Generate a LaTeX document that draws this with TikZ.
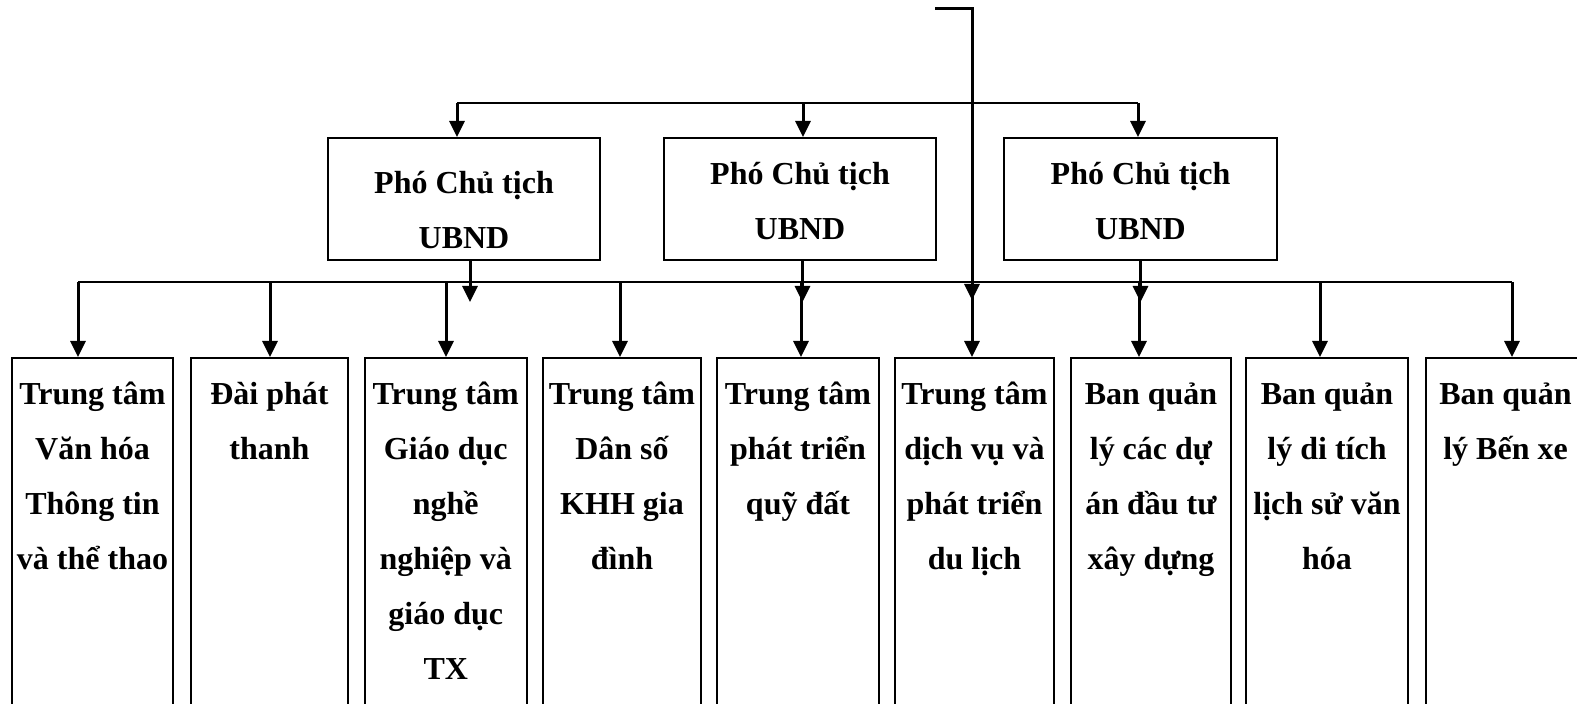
\documentclass[tikz,border=0pt]{standalone}
\usepackage{fontspec}
\setmainfont{Liberation Serif}
\usetikzlibrary{arrows.meta}

% text hung from the top of a box: height, width, first baseline, lines
\newcommand{\celltext}[4]{\parbox[t][#1][t]{#2}{\centering\rule{0pt}{#3}#4}}

\begin{document}
\begin{tikzpicture}[
  x=0.5pt, y=-0.5pt,
  every node/.style={font=\bfseries\fontsize{16pt}{27.5pt}\selectfont},
  vpbox/.style={draw, line width=1pt, inner sep=0pt, anchor=north west},
  unitbox/.style={draw, line width=1pt, inner sep=0pt, anchor=north west},
  conn/.style={line width=1.2pt},
  arr/.style={-{Triangle[length=8pt,width=7.5pt]}, line width=1.5pt}
]
\useasboundingbox (0,0) rectangle (1577,704);

% ---------------- deputy chairmen ----------------
\node[vpbox] (vp1) at (327,137) {\celltext{61pt}{136pt}{28pt}{Phó Chủ tịch\\UBND}};
\node[vpbox] (vp2) at (663,137) {\celltext{61pt}{136pt}{23.4pt}{Phó Chủ tịch\\UBND}};
\node[vpbox] (vp3) at (1003,137) {\celltext{61pt}{136.5pt}{23.4pt}{Phó Chủ tịch\\UBND}};

% ---------------- units ----------------
\node[unitbox] (u1) at (11,357) {\celltext{180pt}{80.5pt}{23.5pt}{Trung tâm\\Văn hóa\\Thông tin\\và thể thao}};
\node[unitbox] (u2) at (190,357) {\celltext{180pt}{78.5pt}{23.5pt}{Đài phát\\thanh}};
\node[unitbox] (u3) at (364,357) {\celltext{180pt}{80.75pt}{23.5pt}{Trung tâm\\Giáo dục\\nghề\\nghiệp và\\giáo dục\\TX}};
\node[unitbox] (u4) at (542,357) {\celltext{180pt}{79pt}{23.5pt}{Trung tâm\\Dân số\\KHH gia\\đình}};
\node[unitbox] (u5) at (716,357) {\celltext{180pt}{81pt}{23.5pt}{Trung tâm\\phát triển\\quỹ đất}};
\node[unitbox] (u6) at (894,357) {\celltext{180pt}{79.5pt}{23.5pt}{Trung tâm\\dịch vụ và\\phát triển\\du lịch}};
\node[unitbox] (u7) at (1070,357) {\celltext{180pt}{80pt}{23.5pt}{Ban quản\\lý các dự\\án đầu tư\\xây dựng}};
\node[unitbox] (u8) at (1245,357) {\celltext{180pt}{81pt}{23.5pt}{Ban quản\\lý di tích\\lịch sử văn\\hóa}};
\node[unitbox] (u9) at (1425,357) {\celltext{180pt}{79.5pt}{23.5pt}{Ban quản\\lý Bến xe}};

% ---------------- buses ----------------
\coordinate (in) at (935,9);
\coordinate (spine) at (972,9);
\coordinate (stop) at (0,300);
\coordinate (tbusL) at (457,103);
\coordinate (tbusR) at (1138,103);
\coordinate (bbusL) at (78,282);
\coordinate (bbusR) at (1512,282);

\draw[conn] (tbusL) -- (tbusR);
\draw[conn] (bbusL) -- (bbusR);
\draw[arr] (in) -- (spine) -- (spine |- stop);

% ---------------- arrows ----------------
\foreach \x/\n in {457/vp1, 803/vp2, 1138/vp3} {
  \coordinate (t) at (\x,103);
  \draw[arr] (t) -- (t |- \n.north);
}
\draw[arr] ([xshift=3pt]vp1.south) -- ++(0,41);
\draw[arr] ([xshift=1.25pt]vp2.south) -- ++(0,41);
\draw[arr] (vp3.south) -- ++(0,41);

\foreach \x/\n in {78/u1, 270/u2, 446/u3, 620/u4, 801/u5, 972/u6, 1139/u7, 1320/u8, 1512/u9} {
  \coordinate (d) at (\x,282);
  \draw[arr] (d) -- (d |- \n.north);
}

\end{tikzpicture}
\end{document}
